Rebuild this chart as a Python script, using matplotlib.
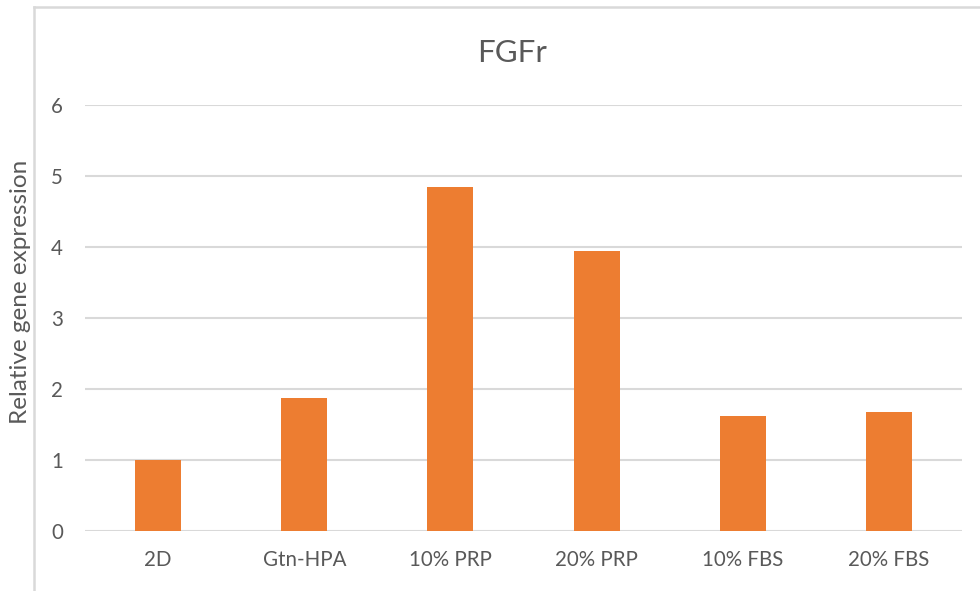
import matplotlib
matplotlib.use("Agg")
import matplotlib.pyplot as plt
from matplotlib.lines import Line2D

categories = ["2D", "Gtn-HPA", "10% PRP", "20% PRP", "10% FBS", "20% FBS"]
values = [1.0, 1.87, 4.85, 3.94, 1.62, 1.68]
yticks = [0, 1, 2, 3, 4, 5, 6]
title = "FGFr"
ylabel = "Relative gene expression"

plt.rcParams['font.family'] = ['Lato', 'DejaVu Sans']
txt = "#595959"
grid = "#D9D9D9"
orange = "#ED7D31"

W, H = 980, 591
fig = plt.figure(figsize=(W / 100, H / 100), dpi=100)
ax = fig.add_axes([85 / W, 1 - 531 / H, (962 - 85) / W, (531 - 105) / H])

x = list(range(len(categories)))
ax.bar(x, values, width=0.315, color=orange, zorder=3)
ax.set_xlim(-0.5, len(categories) - 0.5)
ax.set_ylim(0, 6)
ax.set_yticks(yticks)
ax.set_yticklabels([str(t) for t in yticks])
ax.set_xticks(x)
ax.set_xticklabels(categories)
ax.yaxis.grid(True, color=grid, linewidth=1.5, zorder=0)
for s in ax.spines.values():
    s.set_visible(False)
ax.tick_params(axis='both', length=0, labelsize=14.8, labelcolor=txt)
ax.tick_params(axis='x', pad=14)
ax.tick_params(axis='y', pad=16)

fig.text(512 / W, 1 - 62 / H, title, ha='center', va='baseline', fontsize=22.5, color=txt)
fig.text(21 / W, 1 - 292 / H, ylabel, ha='center', va='center', rotation=90, fontsize=17.5, color=txt)

fig.add_artist(Line2D([33.5 / W, 33.5 / W], [0, 1 - 6.5 / H], color=grid, linewidth=1.8, transform=fig.transFigure))
fig.add_artist(Line2D([33.5 / W, 1], [1 - 6.5 / H, 1 - 6.5 / H], color=grid, linewidth=1.8, transform=fig.transFigure))

fig.savefig("out.png", dpi=100)
